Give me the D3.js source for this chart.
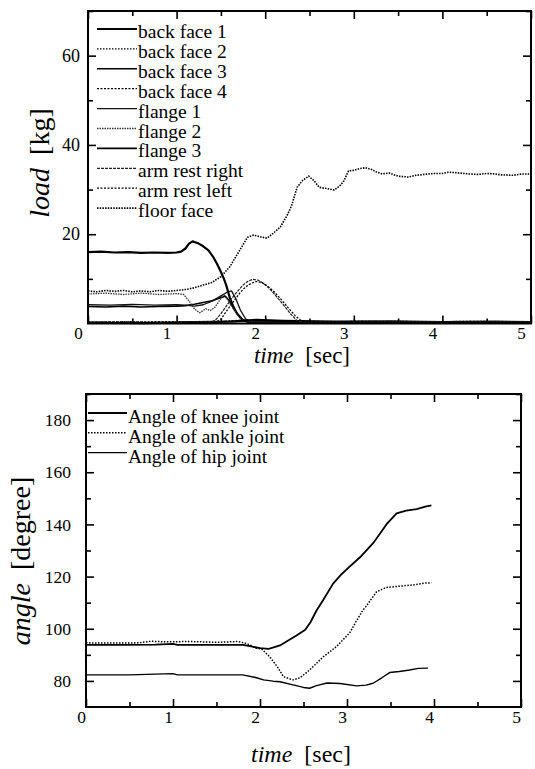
<!DOCTYPE html>
<html><head><meta charset="utf-8">
<script src="https://cdn.jsdelivr.net/npm/d3@7"></script>
<style>
html,body{margin:0;padding:0;background:#fff;}
svg{display:block;}
svg text{font-family:'Liberation Serif','DejaVu Serif','Noto Serif',serif;}
</style></head>
<body><svg id="c" width="535" height="769"></svg>
<script>
// ---------- DATA ----------
const topXTicks = [0,1,2,3,4,5];
const topYTicks = [20,40,60];
const botYTicks = [80,100,120,140,160,180];
const topLegend = ["back face 1","back face 2","back face 3","back face 4","flange 1","flange 2","flange 3","arm rest right","arm rest left","floor face"];
const botLegend = ["Angle of knee joint","Angle of ankle joint","Angle of hip joint"];

const backFace1 = [[0,16.0],[0.15,16.1],[0.3,15.9],[0.45,16.0],[0.6,15.8],[0.75,15.9],[0.9,15.8],[1.0,15.9],[1.05,16.1],[1.1,16.8],[1.14,17.9],[1.18,18.4],[1.25,17.9],[1.3,17.3],[1.36,16.4],[1.41,15.0],[1.45,13.6],[1.49,12.0],[1.53,10.2],[1.56,8.6],[1.6,5.8],[1.64,3.8],[1.68,2.3],[1.74,0.9],[1.8,0.4],[2.0,0.3],[2.3,0.4],[2.6,0.2],[3.0,0.3],[3.5,0.2],[4.0,0.3],[4.5,0.2],[5.0,0.3]];
const backFace2 = [[0,0.1],[0.5,0.3],[1.0,0.2],[1.5,0.5],[1.8,0.6],[2.0,0.4],[2.5,0.5],[3.0,0.3],[3.5,0.5],[4.0,0.3],[4.5,0.4],[5.0,0.2]];
const backFace3 = [[0,3.8],[0.2,3.7],[0.4,3.9],[0.6,3.7],[0.8,3.8],[1.0,3.9],[1.1,4.0],[1.2,4.3],[1.3,4.7],[1.4,5.1],[1.49,5.7],[1.55,6.1],[1.6,5.0],[1.64,3.5],[1.7,1.7],[1.76,0.6],[1.85,0.3],[2.2,0.4],[2.8,0.3],[3.3,0.4],[4.0,0.3],[5.0,0.3]];
const backFace4 = [[0,0.3],[0.4,0.2],[0.9,0.4],[1.3,0.2],[1.7,0.7],[2.1,0.5],[2.6,0.3],[3.1,0.5],[3.7,0.3],[4.3,0.5],[5.0,0.3]];
const flange1 = [[0,4.2],[0.25,4.1],[0.5,4.3],[0.75,4.1],[1.0,4.2],[1.1,4.1],[1.2,3.9],[1.3,4.2],[1.4,5.0],[1.5,6.2],[1.57,7.0],[1.62,7.3],[1.67,5.5],[1.72,3.0],[1.78,1.0],[1.85,0.4],[2.3,0.3],[3.0,0.4],[4.0,0.3],[5.0,0.4]];
const flange2 = [[0,6.6],[0.2,6.8],[0.4,6.5],[0.6,6.8],[0.8,6.5],[1.0,6.7],[1.08,6.5],[1.15,4.8],[1.2,3.3],[1.26,2.4],[1.33,3.3],[1.38,2.9],[1.43,3.6],[1.48,5.0],[1.53,6.6],[1.58,5.2],[1.65,3.0],[1.72,1.2],[1.8,0.4],[2.4,0.3],[3.2,0.4],[4.2,0.3],[5.0,0.4]];
const flange3 = [[0,0.2],[0.6,0.1],[1.2,0.3],[1.6,0.4],[1.9,0.8],[2.2,0.6],[2.8,0.4],[3.4,0.5],[4.0,0.3],[4.6,0.4],[5.0,0.3]];
const armRestRight = [[0,0.3],[0.4,0.4],[0.8,0.2],[1.2,0.4],[1.4,0.4],[1.45,1.0],[1.5,2.2],[1.55,3.6],[1.6,5.0],[1.65,6.3],[1.7,7.5],[1.75,8.6],[1.8,9.4],[1.86,9.9],[1.92,9.7],[1.98,9.0],[2.05,7.8],[2.12,6.2],[2.2,4.3],[2.28,2.3],[2.36,0.6],[2.45,0.3],[3.0,0.3],[3.6,0.4],[4.2,0.3],[5.0,0.4]];
const armRestLeft = [[0,0.2],[0.5,0.3],[1.0,0.2],[1.45,0.3],[1.5,1.0],[1.55,2.4],[1.6,3.8],[1.66,5.4],[1.72,7.0],[1.78,8.2],[1.84,9.0],[1.9,9.4],[1.96,9.2],[2.02,8.5],[2.1,7.1],[2.18,5.4],[2.26,3.5],[2.34,1.7],[2.42,0.4],[2.6,0.2],[3.2,0.3],[4.0,0.2],[5.0,0.3]];
const floorFace = [[0,7.3],[0.1,7.1],[0.2,7.4],[0.3,7.2],[0.4,7.4],[0.5,7.1],[0.6,7.3],[0.7,7.1],[0.8,7.4],[0.9,7.2],[1.0,7.4],[1.1,7.6],[1.2,8.0],[1.3,8.6],[1.4,9.2],[1.5,10.5],[1.6,12.7],[1.7,16.0],[1.8,19.3],[1.87,19.8],[1.95,19.4],[2.02,19.1],[2.09,20.2],[2.17,21.6],[2.25,24.3],[2.3,26.5],[2.36,30.5],[2.42,32.0],[2.49,33.0],[2.55,32.0],[2.61,30.5],[2.7,30.2],[2.78,29.9],[2.85,31.0],[2.89,32.0],[2.94,34.2],[3.0,34.3],[3.07,34.7],[3.13,34.9],[3.2,34.5],[3.25,34.0],[3.32,33.5],[3.4,33.7],[3.5,33.0],[3.62,32.8],[3.7,33.2],[3.8,33.4],[3.9,33.6],[4.0,33.6],[4.07,33.9],[4.2,33.7],[4.3,33.5],[4.4,33.4],[4.5,33.6],[4.6,33.5],[4.66,33.3],[4.8,33.2],[4.9,33.5],[5.0,33.5]];

const kneeAngle = [[0,93.8],[0.4,93.8],[0.8,93.9],[1.0,94.2],[1.05,93.8],[1.4,93.8],[1.8,93.8],[1.9,93.2],[2.0,92.6],[2.1,92.3],[2.23,93.6],[2.3,95.0],[2.42,97.4],[2.52,99.6],[2.58,102.5],[2.65,107.0],[2.73,111.2],[2.84,117.3],[2.94,121.0],[3.03,123.8],[3.15,127.4],[3.3,132.8],[3.38,136.5],[3.46,140.3],[3.57,144.2],[3.68,145.3],[3.8,145.9],[3.9,146.8],[3.97,147.3]];
const ankleAngle = [[0,94.6],[0.3,94.5],[0.6,94.6],[0.75,95.2],[0.9,95.0],[1.2,95.1],[1.5,94.8],[1.75,95.1],[1.85,94.3],[1.95,92.6],[2.02,92.2],[2.11,89.3],[2.2,85.4],[2.27,81.6],[2.38,80.4],[2.46,81.2],[2.57,84.2],[2.65,86.8],[2.73,89.3],[2.88,93.2],[3.03,98.4],[3.1,102.5],[3.18,107.0],[3.22,108.6],[3.34,114.2],[3.45,115.8],[3.6,116.3],[3.76,116.8],[3.9,117.5],[3.97,117.6]];
const hipAngle = [[0,82.3],[0.5,82.3],[1.0,82.8],[1.05,82.3],[1.5,82.3],[1.8,82.3],[1.95,81.3],[2.04,80.4],[2.15,79.9],[2.23,79.7],[2.38,78.5],[2.5,77.5],[2.57,77.2],[2.65,78.2],[2.77,79.2],[2.92,79.0],[3.11,78.1],[3.22,78.4],[3.3,79.1],[3.4,81.2],[3.49,83.2],[3.6,83.6],[3.72,84.2],[3.82,84.8],[3.93,84.9]];

const topSeries = [backFace1,backFace2,backFace3,backFace4,flange1,flange2,flange3,armRestRight,armRestLeft,floorFace];
const botSeries = [kneeAngle,ankleAngle,hipAngle];

// ---------- STYLES ----------
const topStyles = [
  {w:2.2,d:null,c:"#000"},
  {w:1.2,d:"1.5,1.5",c:"#000"},
  {w:1.6,d:null,c:"#000"},
  {w:1.3,d:"2,1.5",c:"#000"},
  {w:1.3,d:null,c:"#111"},
  {w:1.3,d:"1.5,1",c:"#333"},
  {w:2.2,d:null,c:"#000"},
  {w:1.2,d:"3,1",c:"#222"},
  {w:1.3,d:"2,1.5",c:"#000"},
  {w:1.6,d:"1.5,1.2",c:"#000"}
];
const botStyles = [
  {w:1.8,d:null,c:"#000"},
  {w:1.5,d:"1.5,1.5",c:"#000"},
  {w:1.4,d:null,c:"#000"}
];

const svg = d3.select("#c");

function panel(cfg){
  const x = d3.scaleLinear().domain([0,5]).range([cfg.x0,cfg.x1]);
  const y = d3.scaleLinear().domain(cfg.yDom).range([cfg.y1,cfg.y0]);
  const g = svg.append("g");
  const xMinor = d3.range(0,5.01,0.5).filter(v=>v%1!==0);
  const yMinor = d3.range(cfg.yDom[0],cfg.yDom[1]+0.01,10).filter(v=>!cfg.yTicks.includes(v) && v!==cfg.yDom[0]);

  function styleAxis(sel){
    sel.attr("font-family",null).attr("font-size",null);
    sel.select(".domain").remove();
    sel.selectAll(".tick line").attr("stroke","#000").attr("stroke-width",1.6);
    sel.selectAll("text").attr("fill","#000");
  }
  // bottom
  g.append("g").attr("transform",`translate(0,${cfg.y1})`)
    .call(d3.axisBottom(x).tickValues(cfg.xTicks).tickSize(-8).tickPadding(cfg.xPad).tickFormat(d3.format("d")))
    .call(styleAxis)
    .call(s=>s.selectAll("text").attr("font-size",cfg.xTickFs).attr("dx",cfg.xdx));
  g.append("g").attr("transform",`translate(0,${cfg.y1})`)
    .call(d3.axisBottom(x).tickValues(xMinor).tickSize(-5).tickFormat(""))
    .call(styleAxis);
  // top
  g.append("g").attr("transform",`translate(0,${cfg.y0})`)
    .call(d3.axisTop(x).tickValues(cfg.xTicks).tickSize(-8).tickFormat(""))
    .call(styleAxis);
  g.append("g").attr("transform",`translate(0,${cfg.y0})`)
    .call(d3.axisTop(x).tickValues(xMinor).tickSize(-5).tickFormat(""))
    .call(styleAxis);
  // left
  g.append("g").attr("transform",`translate(${cfg.x0},0)`)
    .call(d3.axisLeft(y).tickValues(cfg.yTicks).tickSize(-8).tickPadding(cfg.yPad).tickFormat(d3.format("d")))
    .call(styleAxis)
    .call(s=>s.selectAll("text").attr("font-size",cfg.tickFs));
  g.append("g").attr("transform",`translate(${cfg.x0},0)`)
    .call(d3.axisLeft(y).tickValues(yMinor).tickSize(-5).tickFormat(""))
    .call(styleAxis);
  // right
  g.append("g").attr("transform",`translate(${cfg.x1},0)`)
    .call(d3.axisRight(y).tickValues(cfg.yTicks).tickSize(-8).tickFormat(""))
    .call(styleAxis);
  g.append("g").attr("transform",`translate(${cfg.x1},0)`)
    .call(d3.axisRight(y).tickValues(yMinor).tickSize(-5).tickFormat(""))
    .call(styleAxis);

  // lines
  const line = d3.line().x(d=>x(d[0])).y(d=>y(d[1]));
  cfg.series.forEach((s,i)=>{
    const st = cfg.styles[i];
    g.append("path").datum(s).attr("d",line).attr("fill","none")
      .attr("stroke",st.c).attr("stroke-width",st.w)
      .attr("stroke-dasharray",st.d).attr("stroke-linejoin","round");
  });

  // frame
  g.append("rect").attr("x",cfg.x0).attr("y",cfg.y0).attr("width",cfg.x1-cfg.x0).attr("height",cfg.y1-cfg.y0)
    .attr("fill","none").attr("stroke","#000").attr("stroke-width",2);

  // legend
  cfg.legend.forEach((lab,i)=>{
    const st = cfg.styles[i];
    const by = cfg.legY + i*cfg.legDy;
    g.append("line").attr("x1",cfg.legX0).attr("x2",cfg.legX1).attr("y1",by-cfg.legOff).attr("y2",by-cfg.legOff)
      .attr("stroke",st.c).attr("stroke-width",Math.min(st.w,1.8)).attr("stroke-dasharray",st.d);
    g.append("text").attr("x",cfg.legX1+1).attr("y",by)
      .attr("font-size",cfg.legFs).attr("fill","#000").text(lab);
  });

  // x title
  const xt = g.append("text").attr("x",cfg.xtX).attr("y",cfg.xtY).attr("text-anchor","middle")
    .attr("font-size",cfg.xtFs).attr("fill","#000");
  xt.append("tspan").attr("font-style","italic").text("time");
  xt.append("tspan").attr("dx",6).text(" [sec]");
  // y title
  const yt = g.append("text").attr("transform",`translate(${cfg.ytX},${cfg.ytY}) rotate(-90)`)
    .attr("text-anchor","middle").attr("font-size",cfg.ytFs).attr("fill","#000");
  yt.append("tspan").attr("font-style","italic").text(cfg.yName);
  yt.append("tspan").attr("dx",6).text(" "+cfg.yUnit);
}

panel({x0:88,x1:531,y0:11,y1:323.5,yDom:[0,70],xTicks:topXTicks,yTicks:topYTicks,
  xPad:3,yPad:8,xdx:-10,tickFs:18,xTickFs:17,series:topSeries,styles:topStyles,legend:topLegend,
  legX0:97,legX1:137,legY:38,legDy:19.9,legOff:9,legFs:19.5,
  xtX:302,xtY:363,xtFs:23,ytX:49,ytY:163,ytFs:28,yName:"load",yUnit:"[kg]"});

panel({x0:86,x1:521,y0:394,y1:707,yDom:[70,190],xTicks:topXTicks,yTicks:botYTicks,
  xPad:4,yPad:15,xdx:-5,tickFs:17.5,xTickFs:17.5,series:botSeries,styles:botStyles,legend:botLegend,
  legX0:88,legX1:127,legY:423,legDy:19.8,legOff:10,legFs:19.5,
  xtX:301,xtY:762,xtFs:24,ytX:30,ytY:561,ytFs:28,yName:"angle",yUnit:"[degree]"});
</script>
</body></html>
